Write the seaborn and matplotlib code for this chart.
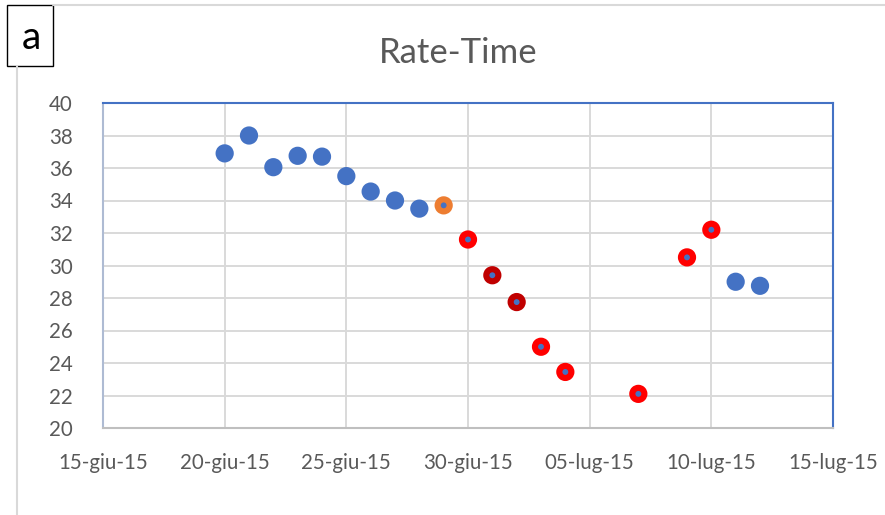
import matplotlib
matplotlib.use("Agg")
import matplotlib.pyplot as plt
from matplotlib.patches import Rectangle
from matplotlib.lines import Line2D
import seaborn as sns
import pandas as pd

# Daily measurements
dates = ["2015-06-20", "2015-06-21", "2015-06-22", "2015-06-23", "2015-06-24",
         "2015-06-25", "2015-06-26", "2015-06-27", "2015-06-28", "2015-06-29",
         "2015-06-30", "2015-07-01", "2015-07-02", "2015-07-03", "2015-07-04",
         "2015-07-07", "2015-07-09", "2015-07-10", "2015-07-11", "2015-07-12"]
rates = [36.9, 38.0, 36.05, 36.75, 36.7, 35.5, 34.55, 34.0, 33.5, 33.7,
         31.6, 29.4, 27.75, 25.0, 23.45, 22.1, 30.5, 32.2, 29.0, 28.75]
phase = ["normal"] * 9 + ["transition"] + ["low", "critical", "critical", "low",
         "low", "low", "low", "low"] + ["normal", "normal"]

phase_colors = {"normal": "#4472C4", "transition": "#ED7D31",
                "low": "#FF0000", "critical": "#C00000"}

tick_dates = ["2015-06-15", "2015-06-20", "2015-06-25", "2015-06-30",
              "2015-07-05", "2015-07-10", "2015-07-15"]
tick_labels = ["15-giu-15", "20-giu-15", "25-giu-15", "30-giu-15",
               "05-lug-15", "10-lug-15", "15-lug-15"]
y_ticks = [20, 22, 24, 26, 28, 30, 32, 34, 36, 38, 40]

df = pd.DataFrame({"date": pd.to_datetime(dates), "rate": rates, "phase": phase})

sns.set_theme(style="white")
plt.rcParams["font.family"] = ["Lato", "DejaVu Sans"]

W, H = 885, 515
fig = plt.figure(figsize=(W / 100, H / 100), dpi=100)
fig.patch.set_facecolor("white")

ax = fig.add_axes([103 / W, 1 - 428 / H, 730 / W, 325 / H])

sns.scatterplot(data=df, x="date", y="rate", ax=ax, color="#4472C4",
                edgecolor=[phase_colors[p] for p in df["phase"]],
                linewidth=4.4, s=76, zorder=3, legend=False)

ax.set_xlim(pd.Timestamp(tick_dates[0]), pd.Timestamp(tick_dates[-1]))
ax.set_ylim(20, 40)
ax.set_xticks(pd.to_datetime(tick_dates))
ax.set_xticklabels(tick_labels)
ax.set_yticks(y_ticks)
ax.set_xlabel("")
ax.set_ylabel("")

ax.grid(True, color="#D9D9D9", linewidth=1.4, zorder=0)
ax.set_axisbelow(True)
ax.tick_params(axis="both", length=0, labelsize=14.8, labelcolor="#595959")
ax.tick_params(axis="x", pad=18)
ax.tick_params(axis="y", pad=22)

for side in ["top", "right"]:
    ax.spines[side].set_color("#4472C4")
    ax.spines[side].set_linewidth(1.5)
ax.spines["left"].set_color("#AEBBD3")
ax.spines["left"].set_linewidth(1.5)
ax.spines["bottom"].set_color("#BFBFBF")
ax.spines["bottom"].set_linewidth(1.5)

ax.set_title("Rate-Time", fontsize=25, color="#595959", pad=29, x=0.486)

# Chart-area border fragments and the panel letter box
fig.add_artist(Line2D([53 / W, 1], [1 - 5 / H, 1 - 5 / H], transform=fig.transFigure,
                      color="#D9D9D9", linewidth=1.5))
fig.add_artist(Line2D([17 / W, 17 / W], [0, 1 - 66 / H], transform=fig.transFigure,
                      color="#D9D9D9", linewidth=1.5))
fig.add_artist(Rectangle((7 / W, 1 - 66 / H), 46 / W, 61 / H, transform=fig.transFigure,
                         facecolor="white", edgecolor="black", linewidth=1.0))
fig.text(31 / W, 1 - 38 / H, "a", fontsize=28, color="black", ha="center", va="center")

fig.savefig("out.png", dpi=100)
